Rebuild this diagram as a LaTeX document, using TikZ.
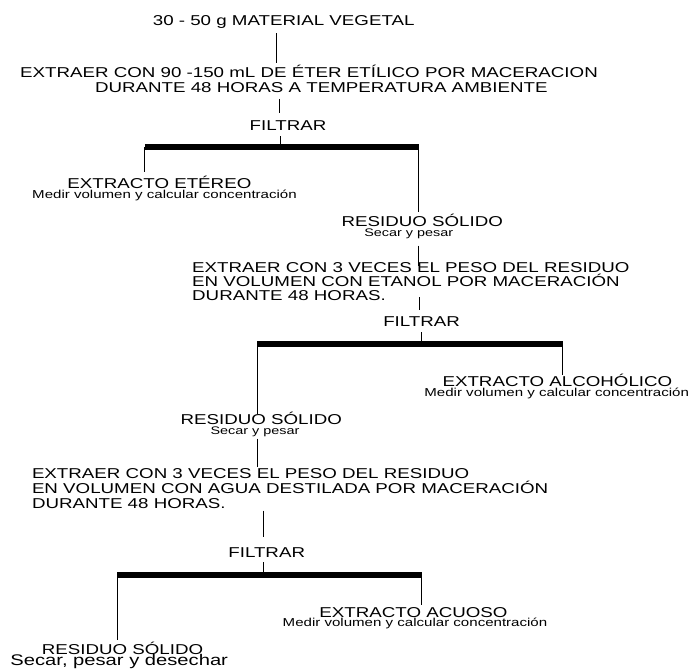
\documentclass[tikz,border=0pt]{standalone}
\usepackage{fontspec}
\setmainfont{Liberation Sans}[FakeStretch=1.31]
\begin{document}
\begin{tikzpicture}[x=1pt,y=-1pt,
  main/.style={font=\fontsize{14.3}{15}\selectfont, inner sep=0pt, anchor=base, text height=10.2pt, text depth=0pt},
  small/.style={font=\fontsize{11.5}{12}\selectfont, inner sep=0pt, anchor=base, text height=8.2pt, text depth=2.4pt},
  smaller/.style={font=\fontsize{11}{12}\selectfont, inner sep=0pt, anchor=base, text height=7.9pt, text depth=2.3pt},
  big/.style={font=\fontsize{15.4}{16}\selectfont, inner sep=0pt, anchor=base, text height=10.8pt, text depth=3.2pt},
  block/.style={inner sep=0pt, align=left, anchor=north west},
  conn/.style={line width=1pt},
  bar/.style={line width=5.5pt}]
\path[fill=white, use as bounding box] (0,0) rectangle (691,670);

% ---- first stage
\node[main] (t0) at (283.7,25) {30 - 50 g MATERIAL VEGETAL};
\node[block, font=\fontsize{14.3}{15}\selectfont] (e1) at (19.9,65) {EXTRAER CON 90 -150 mL DE ÉTER ETÍLICO POR MACERACION\\\hspace*{75pt}DURANTE 48 HORAS A TEMPERATURA AMBIENTE};
\node[main] (f1) at (288,130.3) {FILTRAR};
\coordinate (k1) at (276,0);
\coordinate (k2) at (279,0);
\coordinate (b1l) at (144.8,147);
\coordinate (b1c) at (280.8,147);
\coordinate (b1r) at (418.5,147);
\node[main] (x1) at (159.4,188) {EXTRACTO ETÉREO};
\node[small] (x1s) at (164.5,198) {Medir volumen y calcular concentración};
\node[main] (r1) at (422.3,226) {RESIDUO SÓLIDO};
\node[smaller] (r1s) at (408.8,236.5) {Secar y pesar};

\draw[conn, shorten <=8pt, shorten >=2pt] (t0.south -| k1) -- (e1.north -| k1);
\draw[conn, shorten <=6pt, shorten >=7.3pt] (e1.south -| k2) -- (f1.north -| k2);
\draw[conn, shorten <=5.7pt] (f1.south -| b1c) -- (b1c);
\draw[bar] (b1l) -- (b1r);
\draw[conn, shorten >=6pt] (b1l) -- (b1l |- x1.north);
\draw[conn, shorten >=4pt] (b1r) -- (b1r |- r1.north);

% ---- second stage
\node[block, font=\fontsize{14.3}{14.3}\selectfont] (e2) at (192,262) {EXTRAER CON 3 VECES EL PESO DEL RESIDUO\\EN VOLUMEN CON ETANOL POR MACERACIÓN\\DURANTE 48 HORAS.};
\node[main] (f2) at (421.6,326) {FILTRAR};
\coordinate (k3) at (418.5,0);
\coordinate (k4) at (419.4,0);
\coordinate (b2l) at (257,344);
\coordinate (b2c) at (421.6,344);
\coordinate (b2r) at (562.9,344);
\node[main] (x2) at (557.4,386.3) {EXTRACTO ALCOHÓLICO};
\node[small] (x2s) at (556.7,396) {Medir volumen y calcular concentración};
\node[main] (r2) at (261.2,424) {RESIDUO SÓLIDO};
\node[smaller] (r2s) at (255,434.5) {Secar y pesar};

\draw[conn, shorten <=6.7pt, shorten >=-4pt] (r1s.south -| k3) -- (e2.north -| k3);
\draw[conn, shorten <=-4pt, shorten >=6pt] (e2.south -| k4) -- (f2.north -| k4);
\draw[conn, shorten <=6pt] (f2.south -| b2c) -- (b2c);
\draw[bar] (b2l) -- (b2r);
\draw[conn, shorten >=1.3pt] (b2r) -- (b2r |- x2.north);
\draw[conn] (b2l) -- (b2l |- r2.north);

% ---- third stage
\node[block, font=\fontsize{14.3}{15}\selectfont] (e3) at (31.8,468) {EXTRAER CON 3 VECES EL PESO DEL RESIDUO\\EN VOLUMEN CON AGUA DESTILADA POR MACERACIÓN\\DURANTE 48 HORAS.};
\node[main] (f3) at (266.7,557) {FILTRAR};
\coordinate (k5) at (263.6,0);
\coordinate (b3l) at (117,575);
\coordinate (b3c) at (263.6,575);
\coordinate (b3r) at (421.6,575);
\node[main] (x3) at (413.5,617) {EXTRACTO ACUOSO};
\node[small] (x3s) at (415,626) {Medir volumen y calcular concentración};
\node[main] (r3) at (122.5,654) {RESIDUO SÓLIDO};
\node[big] (r3s) at (119.2,665.5) {Secar, pesar y desechar};

\draw[conn, shorten <=1.7pt, shorten >=1pt] (r2s.south -| b2l) -- (e3.north -| b2l);
\draw[conn, shorten <=2pt, shorten >=10pt] (e3.south -| k5) -- (f3.north -| k5);
\draw[conn, shorten <=5pt] (f3.south -| b3c) -- (b3c);
\draw[bar] (b3l) -- (b3r);
\draw[conn, shorten >=2pt] (b3r) -- (b3r |- x3.north);
\draw[conn, shorten >=4pt] (b3l) -- (b3l |- r3.north);
\end{tikzpicture}
\end{document}
